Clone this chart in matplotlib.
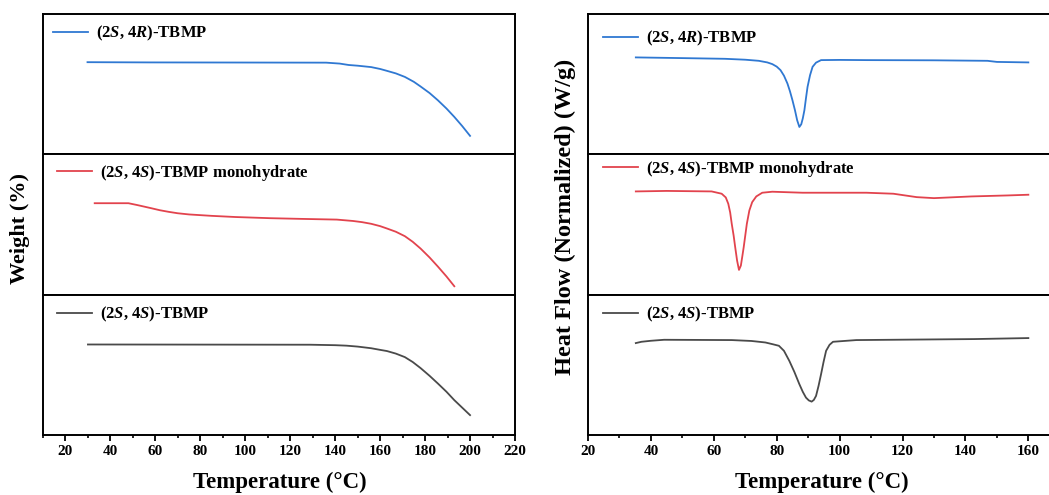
import matplotlib
matplotlib.use("Agg")
import matplotlib.pyplot as plt
from matplotlib.ticker import MultipleLocator

plt.rcParams['font.family'] = ['Liberation Serif', 'DejaVu Serif']
plt.rcParams['font.weight'] = 'bold'
plt.rcParams['mathtext.fontset'] = 'custom'
plt.rcParams['mathtext.rm'] = 'Liberation Serif:bold'
plt.rcParams['mathtext.it'] = 'Liberation Serif:italic:bold'
plt.rcParams['mathtext.bf'] = 'Liberation Serif:bold'

# ---------------- TGA data (Weight %) ----------------
tga_R_T = [29.8, 58, 100, 136, 142, 146, 150, 156, 160, 163, 167, 171, 175, 178,
           182, 185.7, 189.5, 193, 196.5, 200]
tga_R_w = [99.4, 99.3, 99.25, 99.2, 98.8, 98.2, 97.9, 97.3, 96.5, 95.7, 94.6, 93.1,
           91.0, 89.0, 86.2, 83.1, 79.6, 76.0, 72.1, 67.9]

tga_H_T = [33, 48, 52, 58, 62, 66, 70, 75, 85, 95.6, 111, 125, 140.7, 148, 152, 156,
           160, 163, 167, 171, 174.5, 178, 182, 185.7, 189.5, 193]
tga_H_w = [99.1, 99.1, 98.3, 97.0, 96.1, 95.4, 94.8, 94.3, 93.7, 93.2, 92.7, 92.4,
           92.1, 91.5, 91.0, 90.3, 89.3, 88.3, 86.9, 85.0, 82.6, 79.7, 75.9, 72.0,
           67.8, 63.6]

tga_S_T = [30, 129, 140, 145, 150, 156, 160, 163, 167, 171, 174.5, 178, 182, 185.7,
           189.5, 193, 196.5, 200]
tga_S_w = [98.7, 98.6, 98.4, 98.2, 97.8, 97.1, 96.4, 95.9, 94.8, 93.3, 91.2, 88.6,
           85.3, 82.0, 78.5, 74.9, 71.7, 68.5]

# ---------------- DSC data (Heat flow, W/g) ----------------
dsc_R_T = [35.2, 50, 63.6, 70, 74.3, 77, 78.6, 80, 81.2, 82.3, 83.4, 84.2, 85, 85.8,
           86.5, 87.2, 87.8, 88.3, 88.8, 89.3, 89.8, 90.6, 91.4, 92.5, 94.1, 100,
           108.5, 130, 147, 150, 160]
dsc_R_h = [0.054, 0.04, 0.026, 0.008, -0.014, -0.046, -0.08, -0.13, -0.2, -0.31,
           -0.466, -0.62, -0.8, -1.0, -1.2, -1.334, -1.28, -1.16, -1.0, -0.76,
           -0.534, -0.3, -0.134, -0.05, 0.0, 0.004, 0.0, -0.004, -0.014, -0.036, -0.046]

dsc_H_T = [35.2, 45, 59.3, 62.5, 63.8, 64.6, 65.2, 65.7, 66.3, 66.8, 67.4, 68.0,
           68.6, 69.1, 69.5, 70.0, 70.5, 71.3, 72.2, 73.5, 75.4, 78.6, 88.2, 108.5,
           117.1, 124.5, 130, 141.9, 153.5, 160]
dsc_H_h = [0.18, 0.19, 0.18, 0.134, 0.06, -0.066, -0.24, -0.466, -0.70, -0.934,
           -1.20, -1.386, -1.30, -1.10, -0.934, -0.70, -0.466, -0.20, -0.034, 0.08,
           0.154, 0.174, 0.154, 0.154, 0.134, 0.066, 0.046, 0.08, 0.10, 0.114]

dsc_S_T = [35.2, 37, 40, 44.2, 65.7, 72, 76.4, 78.8, 80.7, 82.3, 84, 85.6, 87.2,
           88.3, 89.3, 90.2, 91.1, 91.8, 92.5, 93.3, 94.1, 94.9, 95.7, 96.8, 97.9,
           105.3, 142.8, 160]
dsc_S_h = [-0.046, -0.02, 0.0, 0.02, 0.014, -0.004, -0.034, -0.07, -0.10, -0.20,
           -0.40, -0.62, -0.866, -1.02, -1.134, -1.19, -1.214, -1.18, -1.10, -0.90,
           -0.666, -0.42, -0.20, -0.08, -0.02, 0.014, 0.034, 0.054]

labels = [r"(2$S$, 4$R$)-TBMP", r"(2$S$, 4$S$)-TBMP monohydrate", r"(2$S$, 4$S$)-TBMP"]
colors = ['#2f78d2', '#e2434d', '#4a4a4a']

W, H = 1049, 495
fig = plt.figure(figsize=(W / 100, H / 100), dpi=100)

top_px, bot_px = 14, 435
ph = (bot_px - top_px) / 3.0

def px_axes(x0, x1, y0, y1):
    return fig.add_axes([x0 / W, 1 - y1 / H, (x1 - x0) / W, (y1 - y0) / H])

left_x0, left_x1 = 43, 515
right_x0, right_x1 = 588, 1059.8

tga = [(tga_R_T, tga_R_w), (tga_H_T, tga_H_w), (tga_S_T, tga_S_w)]
dsc = [(dsc_R_T, dsc_R_h), (dsc_H_T, dsc_H_h), (dsc_S_T, dsc_S_h)]

leg_left = [(0.021, 0.93), (0.030, 0.94), (0.030, 0.925)]
leg_right = [(0.032, 0.895), (0.032, 0.965), (0.032, 0.925)]

def style(ax, bottom):
    for s in ax.spines.values():
        s.set_linewidth(1.4)
    ax.set_yticks([])
    if bottom:
        ax.tick_params(axis='x', which='major', direction='out', length=4.5, width=1.3,
                       labelsize=11, pad=3)
        ax.tick_params(axis='x', which='minor', direction='out', length=2.5, width=1.2)
        for t in ax.get_xticklabels():
            t.set_fontweight('bold')
    else:
        ax.tick_params(axis='x', which='both', bottom=False, labelbottom=False)

legprop = {'family': 'Liberation Serif', 'weight': 'bold', 'size': 12}

for i in range(3):
    y0 = top_px + i * ph
    y1 = y0 + ph
    # TGA
    ax = px_axes(left_x0, left_x1, y0, y1)
    T, w = tga[i]
    ax.plot(T, w, color=colors[i], lw=1.3, label=labels[i])
    ax.set_xlim(10, 220)
    ax.set_ylim(60, 120)
    ax.xaxis.set_minor_locator(MultipleLocator(10))
    if i == 2:
        ax.set_xticks(list(range(20, 221, 20)))
    style(ax, i == 2)
    ax.legend(loc='upper left', bbox_to_anchor=leg_left[i], frameon=False,
              borderaxespad=0, borderpad=0, handlelength=2.1, handletextpad=0.5,
              prop=legprop)
    # DSC
    ax2 = px_axes(right_x0, right_x1, y0, y1)
    T, h = dsc[i]
    ax2.plot(T, h, color=colors[i], lw=1.3, label=labels[i])
    ax2.set_xlim(20, 170)
    ax2.set_ylim(-1.88, 0.92)
    ax2.xaxis.set_minor_locator(MultipleLocator(10))
    if i == 2:
        ax2.set_xticks(list(range(20, 161, 20)))
    style(ax2, i == 2)
    ax2.legend(loc='upper left', bbox_to_anchor=leg_right[i], frameon=False,
               borderaxespad=0, borderpad=0, handlelength=2.1, handletextpad=0.5,
               prop=legprop)

fig.text(280 / W, 1 - 482 / H, "Temperature (\u00b0C)", ha='center', va='center',
         fontsize=16.5, fontweight='bold')
fig.text(822 / W, 1 - 482 / H, "Temperature (\u00b0C)", ha='center', va='center',
         fontsize=16.5, fontweight='bold')
fig.text(20 / W, 1 - 228 / H, "Weight (%)", ha='center', va='center', rotation=90,
         fontsize=16, fontweight='bold')
fig.text(565 / W, 1 - 217 / H, "Heat Flow (Normalized) (W/g)", ha='center', va='center',
         rotation=90, fontsize=17.5, fontweight='bold')

fig.savefig("out.png", dpi=100)
